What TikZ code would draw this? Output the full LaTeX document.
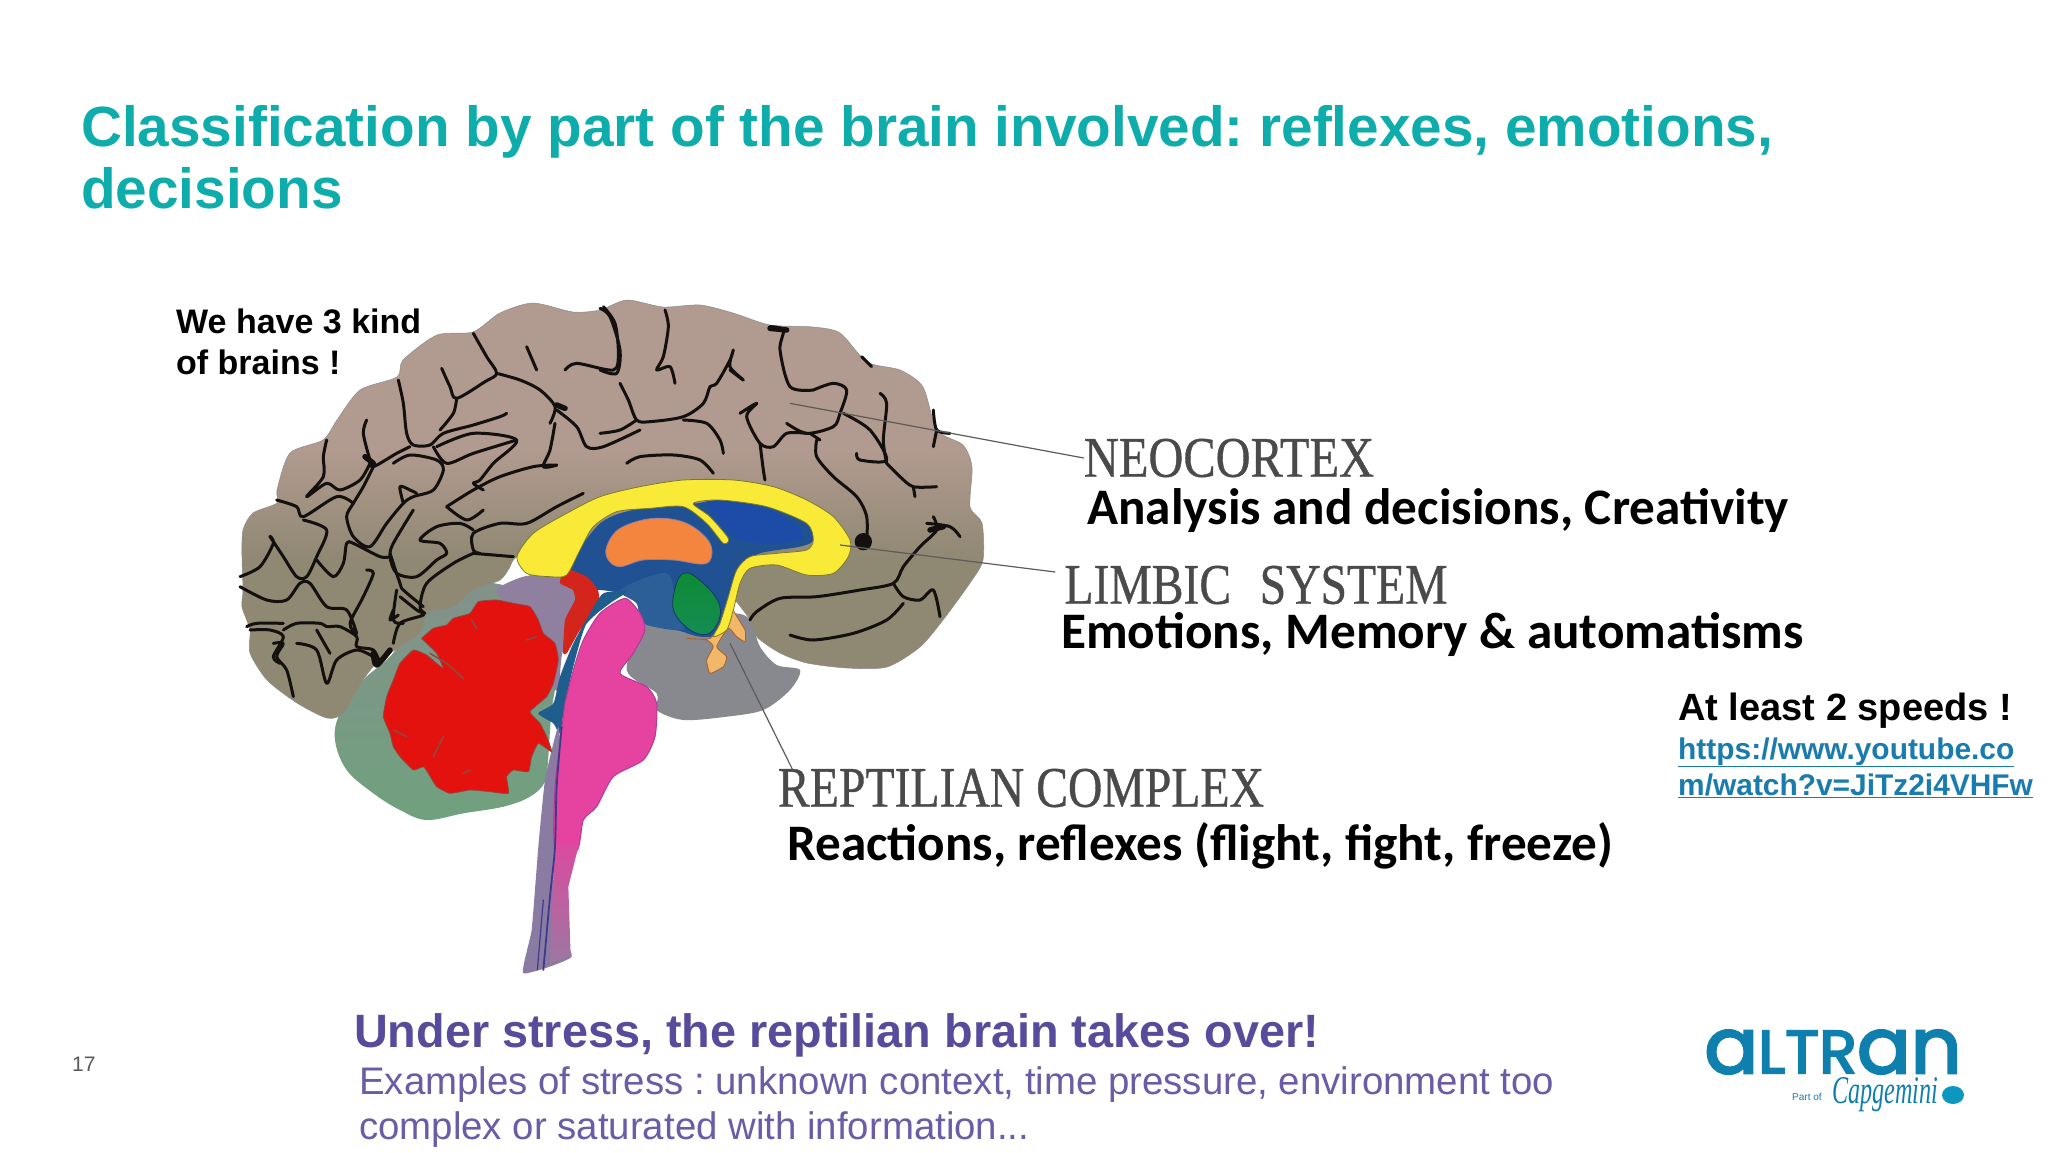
\documentclass[tikz,border=0pt]{standalone}
\usepackage{fontspec}
\usepackage{graphicx}
\setmainfont{Liberation Sans}
\newfontfamily\calib{Carlito}
\newfontfamily\timesf[FakeBold=0.7]{Liberation Serif}
\newfontfamily\timesi{Liberation Serif}
\newfontfamily\poppl[FakeBold=3.2]{Poppins}
\definecolor{titleteal}{HTML}{0EADAC}
\definecolor{stressviolet}{HTML}{574C9B}
\definecolor{exviolet}{HTML}{6A5CA6}
\definecolor{linkblue}{HTML}{1A7CAE}
\definecolor{logoblue}{HTML}{0F7FAE}
\definecolor{crtan}{HTML}{B19A8F}
\definecolor{crolive}{HTML}{8F8873}
\definecolor{sulcus}{HTML}{14100E}
\definecolor{leader}{HTML}{5E5B58}
\definecolor{capsgray}{HTML}{4A4A4A}
\definecolor{basalgray}{HTML}{87898E}
\definecolor{sheathtop}{HTML}{84918A}
\definecolor{sheathlow}{HTML}{70A17E}
\definecolor{purplegray}{HTML}{8F80A0}
\definecolor{arborred}{HTML}{E4120F}
\definecolor{arboredge}{HTML}{8E4A40}
\definecolor{midred}{HTML}{D4251C}
\definecolor{ventblue}{HTML}{205193}
\definecolor{ventlow}{HTML}{2C5E97}
\definecolor{ventbright}{HTML}{1C4CA8}
\definecolor{callosum}{HTML}{F9EA38}
\definecolor{calledge}{HTML}{7F7A2A}
\definecolor{orangeb}{HTML}{F4853F}
\definecolor{greenb}{HTML}{10A23C}
\definecolor{tailor}{HTML}{F0B868}
\definecolor{pinkb}{HTML}{E6429F}
\definecolor{mauve}{HTML}{9C78A2}
\definecolor{stemviolet}{HTML}{8A7BA2}
\definecolor{stemdark}{HTML}{43388C}
\definecolor{stemblue}{HTML}{1F5D8C}
\pgfdeclareverticalshading{cortexsh}{100bp}{color(0bp)=(crolive); color(44bp)=(crolive); color(57bp)=(crtan); color(100bp)=(crtan)}
\tikzset{
  sul/.style={draw=sulcus,line width=3pt,line cap=round,line join=round},
  leaderline/.style={draw=leader,line width=1.2pt},
  caps/.style={anchor=center,font=\timesf,text=capsgray,inner sep=0pt},
  cal/.style={anchor=base west,font=\calib\bfseries\fontsize{51.2}{51.2}\selectfont,text=black,inner sep=0pt},
  ari/.style={anchor=base west,font=\bfseries\fontsize{34}{34}\selectfont,text=black,inner sep=0pt},
  lnk/.style={anchor=base west,font=\bfseries\fontsize{29.9}{29.9}\selectfont,text=linkblue,inner sep=0pt},
  ttl/.style={anchor=base west,font=\bfseries\fontsize{56.7}{56.7}\selectfont,text=titleteal,inner sep=0pt},
  region/.style={line width=0.8pt,line join=round},
  cropA/.style={shift={(240,290)},x=0.33333pt,y=-0.33333pt},
  cropB/.style={shift={(600,290)},x=0.33333pt,y=-0.33333pt},
  cropC/.style={shift={(230,600)},x=0.33333pt,y=-0.33333pt},
  cropD/.style={shift={(500,580)},x=0.33333pt,y=-0.33333pt},
}
\newcommand{\sm}[1]{\draw[sul] plot[smooth,tension=0.5] coordinates {#1};}
\newcommand{\blob}[1]{\draw[sul,line width=5.5pt] plot[smooth,tension=0.5] coordinates {#1};}
\begin{document}
\frenchspacing
\begin{tikzpicture}[x=1pt,y=-1pt]
\useasboundingbox (0,0) rectangle (2048,1152);
\fill[white] (0,0) rectangle (2048,1152);
% cerebellar sheath
\begin{scope}[cropC]
\path[top color=sheathtop,bottom color=sheathlow] plot[smooth cycle,tension=0.6] coordinates {
 (570,60) (480,170) (400,240) (330,340) (315,420) (350,510) (430,580) (510,630) (590,660) (700,640)
 (820,620) (900,590) (945,545) (955,470) (965,330) (990,150) (950,20) (880,-30) (700,-50)};
\end{scope}
% cortex
\path[shading=cortexsh,draw=black!45,line width=0.5pt] plot[smooth cycle,tension=0.45] coordinates {
 (243,530) (253,513) (277,503) (277,490) (290,453) (323,440) (337,420) (360,390) (397,377) (403,360)
 (437,335) (473,332) (500,313) (533,303) (573,312) (600,310) (627,300) (663,307) (700,305) (733,313)
 (770,325) (813,327) (840,333) (867,362) (900,370) (923,387) (937,430) (963,445) (972,467) (970,507)
 (982,523) (983,560) (970,583) (943,620) (920,647) (887,667) (847,668) (807,663) (780,653) (757,637)
 (750,620) (735,600) (700,560) (560,540) (517,557) (510,567) (500,580) (473,590) (453,607) (427,613) (420,633)
 (380,660) (363,680) (343,713) (327,718) (297,703) (267,680) (250,653) (250,630) (242,607) (243,590) (242,557)};
% gray basal region
\begin{scope}[cropD]
\fill[basalgray] plot[smooth cycle,tension=0.5] coordinates {
 (440,130) (380,270) (470,340) (470,390) (550,420) (680,410) (790,390) (870,330) (900,270) (830,255)
 (780,200) (750,120) (700,100) (550,120)};
\end{scope}
% purple-gray
\begin{scope}[cropA]
\fill[purplegray] plot[smooth cycle,tension=0.4] coordinates {
 (770,900) (850,860) (960,850) (1010,900) (990,1000) (965,1100) (955,1200) (930,1180) (880,1060) (810,960)};
\end{scope}
% ventricle blue
\begin{scope}[cropB]
\fill[ventblue] plot[smooth cycle,tension=0.5] coordinates {
 (0,700) (60,670) (150,650) (240,640) (290,640) (360,630) (500,650) (620,700) (640,750) (600,770)
 (480,790) (420,830) (380,950) (360,1030) (300,1040) (230,1020) (130,1000) (110,940) (60,910) (0,900)
 (-70,900) (-100,850) (-120,820) (-60,770)};
\fill[ventlow] plot[smooth cycle,tension=0.5] coordinates {
 (60,900) (200,850) (230,960) (250,1020) (130,1000) (110,940)};
\fill[ventbright] plot[smooth cycle,tension=0.5] coordinates {
 (320,640) (420,640) (520,665) (600,715) (600,750) (500,760) (400,740)};
\end{scope}
% mid-brain red
\fill[midred] plot[smooth cycle,tension=0.25] coordinates {
 (565,568) (587,577) (598,590) (600,607) (597,613) (580,630) (567,653) (563,653) (565,620) (575,600) (573,590) (560,583)};
% stem blue strip and pink
\begin{scope}[cropD]
\fill[stemblue] plot[smooth cycle,tension=0.4] coordinates {
 (310,40) (380,35) (330,70) (260,130) (225,240) (195,370) (180,460) (160,430) (115,400) (160,370) (180,290) (220,190) (270,100)};
\fill[stemviolet] plot[smooth cycle,tension=0.25] coordinates {
 (135,600) (175,440) (190,620) (165,800) (160,1000) (215,1130) (70,1180) (95,1050) (115,800)};
\path[fill=pinkb,draw=pinkb!65!stemdark,line width=1pt] plot[smooth cycle,tension=0.4] coordinates {
 (375,55) (420,100) (435,150) (400,220) (360,280) (440,320) (470,370) (465,470) (430,540) (340,590)
 (290,680) (250,720) (232,810) (165,810) (165,620) (185,450)
 (195,370) (220,270) (250,180) (300,100)};
\path[top color=pinkb!85!mauve,bottom color=mauve] (165,790) -- (240,790) -- (230,820) -- (205,920) -- (212,1130) -- (150,1148) -- (155,1000) -- cycle;
\draw[stemdark,line width=1.8pt,line cap=round] plot[smooth,tension=0.5] coordinates {(185,440)(170,620)(165,800)(150,950)(130,1170)};
\draw[stemdark,line width=1.2pt,line cap=round] (130,960) -- (112,1170);
\end{scope}
% red arbor
\begin{scope}[cropC]
\path[fill=arborred,draw=arboredge,line width=0.8pt,line join=round] plot[smooth cycle,tension=0.25] coordinates {
 (575,115) (610,85) (650,75) (670,55) (720,40) (745,5) (800,0) (850,10) (900,20) (925,60) (940,100) (975,130)
 (985,180) (970,250) (950,290) (900,335) (930,370) (950,410) (965,455) (925,430) (905,470) (895,515) (850,510)
 (830,530) (835,580) (780,575) (720,570) (660,580) (620,560) (595,520) (580,500) (550,510) (510,470) (490,440)
 (480,400) (460,350) (470,290) (490,240) (510,190) (550,150) (590,165) (620,190) (640,205) (620,160) (580,120)};
\draw[arboredge,line width=1.6pt,line cap=round] (600,160) -- (650,190) -- (700,235);
\draw[arboredge,line width=1.6pt,line cap=round] (640,410) -- (610,470);
\draw[arboredge,line width=1.6pt,line cap=round] (920,110) -- (890,120);
\draw[arboredge,line width=1.6pt,line cap=round] (725,60) -- (740,85);
\draw[arboredge,line width=1.6pt,line cap=round] (490,390) -- (530,410);
\draw[arboredge,line width=1.6pt,line cap=round] (700,520) -- (720,510);
\end{scope}
% upper colored parts
\begin{scope}[cropB]
\path[fill=orangeb,draw=purplegray,line width=0.8pt] plot[smooth cycle,tension=0.6] coordinates {
 (20,770) (60,715) (160,685) (260,700) (330,760) (320,820) (220,810) (130,810) (60,830) (25,810)};
\path[top color=greenb!85!black,bottom color=greenb!70!stemblue,draw=ventblue!70!black,line width=0.8pt] plot[smooth cycle,tension=0.7] coordinates {
 (220,920) (250,850) (310,880) (360,950) (340,1020) (290,1030) (230,980)};
\path[fill=tailor,draw=orangeb!70!black,line width=0.8pt,line join=round] plot[smooth cycle,tension=0.3] coordinates {
 (400,900) (400,960) (435,1020) (435,1055) (410,1040) (385,1015) (350,1070) (380,1100) (370,1130) (330,1150)
 (320,1110) (340,1070) (320,1050) (260,1045) (330,1045) (380,980)};
\path[fill=callosum,draw=calledge,region] plot[smooth cycle,tension=0.45] coordinates {
 (-249,800) (-200,730) (-100,670) (0,620) (120,590) (250,570) (400,570) (520,590) (620,630) (700,680)
 (750,750) (745,800) (700,850) (620,855) (530,825) (450,835) (420,880) (400,960) (380,1020) (340,1040)
 (360,1000) (385,920) (410,840) (450,800) (530,790) (620,780) (640,750) (620,700) (500,650) (360,630)
 (280,640) (330,680) (385,745) (370,760) (320,700) (250,650) (150,655) (50,665) (-20,710) (-60,780)
 (-100,855) (-150,860) (-220,850)};
\end{scope}
% sulci, left part
\begin{scope}[cropA]
\sm{(475,270)(490,340)(500,430)(520,465)(570,465)(610,430)(700,405)(780,380)(800,370)}
\sm{(605,235)(630,290)(650,325)(735,275)(770,250)(740,200)(700,130)}
\sm{(650,325)(640,370)(600,420)}
\sm{(770,250)(840,270)(900,300)(945,350)(930,400)}
\sm{(860,170)(890,240)}
\sm{(975,240)(1010,220)(1120,240)(1135,190)(1125,100)(1090,50)}
\sm{(950,360)(1010,410)(1040,470)(1090,470)(1200,420)}
\sm{(590,470)(700,430)(830,450)(760,520)(720,570)(700,580)(730,600)}
\sm{(580,470)(620,520)(700,490)(830,450)}
\sm{(945,400)(930,480)(910,530)(950,525)(880,530)(780,560)(700,600)(620,650)}
\sm{(380,390)(370,430)(390,510)(400,530)(470,490)(510,470)}
\sm{(260,450)(250,500)(250,560)(200,620)(260,580)(300,600)(360,570)(390,520)}
\sm{(110,630)(170,650)(190,680)(290,620)(340,640)}
\sm{(400,530)(370,590)(340,640)(320,680)(340,740)(390,770)(440,700)(490,640)(520,620)(580,600)(610,540)(590,510)(510,495)(460,520)}
\sm{(490,640)(480,590)(510,600)(530,610)}
\sm{(620,650)(680,690)(730,660)}
\sm{(1030,610)(950,650)(860,700)(780,700)(700,730)(700,780)(720,790)}
\sm{(700,720)(660,700)(590,710)(540,750)(600,760)(620,790)(590,810)(530,860)(470,850)(450,800)(460,760)(520,660)}
\sm{(700,790)(640,820)(560,880)(540,950)(555,970)}
\sm{(700,790)(820,800)}
\sm{(450,790)(480,880)(490,900)(550,950)}
\sm{(0,860)(60,830)(100,760)(90,740)(130,800)(170,860)(200,860)(230,800)(260,720)(190,690)}
\sm{(230,810)(280,860)(310,820)(320,760)(340,760)(420,800)(450,800)}
\sm{(0,890)(80,930)(140,930)(180,880)(210,880)(260,950)(320,960)(350,1030)(330,1000)(370,920)(400,850)(380,840)}
\sm{(130,1000)(50,1000)(20,1010)}
\sm{(130,1020)(170,1000)(240,1000)(260,1010)(300,1010)(350,1040)(350,1070)(400,1080)(420,1120)}
\sm{(470,900)(460,990)(490,1000)}
\sm{(480,920)(530,960)(550,975)(480,1000)(460,1060)}
\blob{(375,500)(400,520)}
\blob{(950,345)(975,355)}
\end{scope}
% sulci, lower left
\begin{scope}[cropC]
\sm{(60,90)(120,90)(160,110)(130,170)(150,190)}
\sm{(130,130)(160,130)(140,170)(170,210)(190,290)}
\sm{(200,130)(260,150)(290,250)(320,180)(380,150)(430,170)}
\sm{(260,90)(300,160)}
\blob{(430,160)(440,195)(480,150)}
\sm{(490,30)(480,60)(505,45)}
\end{scope}
% sulci, right part
\begin{scope}[cropB]
\sm{(0,240)(50,250)(60,180)(30,80)(0,55)}
\sm{(195,60)(205,110)(190,200)(170,240)(210,230)(225,280)}
\sm{(60,280)(85,330)(110,390)(150,395)(250,380)(310,340)(330,290)(350,280)(390,210)(400,180)(390,230)(430,270)(390,240)}
\sm{(110,390)(60,420)(0,430)}
\sm{(250,390)(320,400)(360,450)(370,490)}
\sm{(80,520)(120,500)(220,495)(300,510)(340,550)}
\sm{(510,110)(550,120)(540,180)(570,290)(640,300)}
\sm{(640,300)(700,280)(740,300)(720,370)(700,410)(620,430)(560,400)}
\sm{(420,370)(470,340)(440,380)(480,460)(520,470)(560,430)(620,430)}
\sm{(480,460)(490,540)(495,570)}
\sm{(730,370)(810,420)(860,510)(780,510)(770,490)}
\sm{(860,520)(850,450)(860,340)(840,310)}
\sm{(860,520)(900,560)(940,590)(1010,590)}
\sm{(940,590)(945,620)}
\sm{(785,200)(815,230)}
\sm{(1000,360)(1010,420)(1050,430)}
\sm{(1010,420)(1000,470)}
\sm{(650,450)(650,500)(700,560)(770,620)(800,680)(800,760)}
\sm{(630,430)(660,450)}
\sm{(1000,680)(1010,720)(960,770)(910,830)(880,880)(780,900)(650,920)(540,925)(470,965)(450,990)}
\sm{(980,700)(1050,710)(1080,740)}
\sm{(880,880)(910,920)(960,930)(1000,900)(1020,980)}
\sm{(570,1035)(640,1050)(760,1030)(860,990)(910,940)}
\blob{(775,750)(800,770)}
\fill[sulcus] (790,755) circle (26);
\blob{(510,115)(560,120)}
\blob{(990,720)(1030,710)}
\coordinate (neoStart) at (570,340);
\coordinate (limStart) at (720,765);
\end{scope}
\begin{scope}[cropD]
\coordinate (repStart) at (690,190);
\end{scope}
% captions printed in the brain picture
\node[caps] (neo) at (1229,458) {\resizebox{290pt}{38pt}{NEOCORTEX}};
\node[caps] (lim) at (1256,585) {\resizebox{383pt}{38pt}{LIMBIC\hspace{0.6em}SYSTEM}};
\node[caps] (rep) at (1021,788) {\resizebox{486pt}{38pt}{REPTILIAN COMPLEX}};
\draw[leaderline] (neoStart) -- (neo.west);
\draw[leaderline] (limStart) -- ([xshift=-9pt,yshift=13pt]lim.west);
\draw[leaderline] (repStart) -- ([xshift=15pt,yshift=18pt]rep.west);
% title
\node[ttl] (t1) at (81,146) {Classification by part of the brain involved: reflexes, emotions,};
\node[ttl] (t2) at (81,208) {decisions};
% texts
\node[ari] (we1) at (176,333) {We have 3 kind};
\node[ari] (we2) at (176,374) {of brains !};
\node[cal] (d1) at (1087,524) {Analysis and decisions, Creativity};
\node[cal] (d2) at (1061,648) {Emotions, Memory \& automatisms};
\node[cal] (d3) at (787,860) {Reactions, reflexes (flight, fight, freeze)};
\node[ari,font=\bfseries\fontsize{38}{38}\selectfont] (sp) at (1678,720) {At least 2 speeds !};
\node[lnk] (l1) at (1678,759) {\underline{https://www.youtube.co}};
\node[lnk] (l2) at (1678,795) {\underline{m/watch?v=JiTz2i4VHFw}};
\node[anchor=base west,font=\fontsize{21}{21}\selectfont,text=black!65,inner sep=0pt] (pg) at (72,1071) {17};
\node[anchor=base west,font=\bfseries\fontsize{46.8}{46.8}\selectfont,text=stressviolet,inner sep=0pt] (st) at (354,1047) {Under stress, the reptilian brain takes over!};
\node[anchor=base west,font=\fontsize{38.4}{38.4}\selectfont,text=exviolet,inner sep=0pt] (ex1) at (359,1094) {Examples of stress : unknown context, time pressure, environment too};
\node[anchor=base west,font=\fontsize{38.4}{38.4}\selectfont,text=exviolet,inner sep=0pt] (ex2) at (359,1139) {complex or saturated with information...};
% logo
\node[inner sep=0pt,text=logoblue,font=\poppl] (logo) at (1833,1052) {\resizebox{257pt}{43pt}{\scalebox{1.27}{a}LTR\scalebox{1.27}{an}}};
\node[anchor=base west,inner sep=0pt,font=\fontsize{10}{10}\selectfont,text=logoblue] (part) at (1792,1100) {Part of};
\node[anchor=base west,inner sep=0pt,font=\timesi\itshape,text=logoblue] (cap) at (1832,1103) {\resizebox{106pt}{26pt}{Capgemini}};
\fill[logoblue!80!cyan] (1953,1095) ellipse (11 and 9);
\end{tikzpicture}
\end{document}
